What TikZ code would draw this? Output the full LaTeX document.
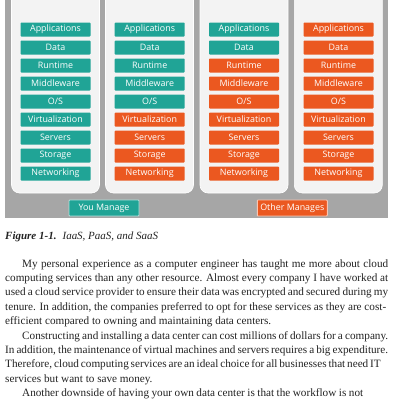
\documentclass[tikz,border=0pt]{standalone}
\usepackage{fontspec}
\setmainfont{Liberation Serif}
\newfontfamily\capfont{Liberation Serif}
\newfontfamily\boxfont{Open Sans}
\definecolor{tealc}{RGB}{32,164,150}
\definecolor{orangec}{RGB}{235,88,32}
\definecolor{bggray}{RGB}{166,166,166}
\definecolor{panelc}{RGB}{243,243,243}
\definecolor{textc}{RGB}{35,35,35}
\begin{document}
\begin{tikzpicture}[x=1pt,y=-1pt,
 layerbox/.style={minimum width=70pt,minimum height=14pt,inner sep=0pt,rounded corners=0.8pt,text=white,font=\boxfont\fontsize{8.9}{10}\selectfont},
 mine/.style={layerbox,fill=tealc},
 theirs/.style={layerbox,fill=orangec},
 legendbox/.style={layerbox,minimum height=16pt,draw=white!65!#1,line width=0.9pt,fill=#1},
 panel/.style={fill=panelc,draw=white,line width=0.6pt,rounded corners=8pt},
 txt/.style={anchor=base west,inner sep=0pt,font=\fontsize{11.2}{12}\selectfont,text=textc}]
\useasboundingbox (0,0) rectangle (400,400);
\fill[white] (0,0) rectangle (400,400);
\fill[bggray] (5,-5) rectangle (388,218);
\draw[panel] (11.5,-15) rectangle (99.5,193);
\draw[panel] (105.5,-15) rectangle (193.5,193);
\draw[panel] (200,-15) rectangle (288,193);
\draw[panel] (294.3,-15) rectangle (382.3,193);
\foreach \lab [count=\i] in {Applications,Data,Runtime,Middleware,O/S,Virtualization,Servers,Storage,Networking} {
  \node[mine] (a\i) at (55.5,11.5+18*\i) {\lab};
  \ifnum\i<6 \node[mine] (b\i) at (149.7,11.5+18*\i) {\lab};
  \else \node[theirs] (b\i) at (149.7,11.5+18*\i) {\lab}; \fi
  \ifnum\i<3 \node[mine] (c\i) at (244,11.5+18*\i) {\lab};
  \else \node[theirs] (c\i) at (244,11.5+18*\i) {\lab}; \fi
  \node[theirs] (d\i) at (338.5,11.5+18*\i) {\lab};
}
\node[legendbox=tealc] (you) at (104,208) {You Manage};
\node[legendbox=orangec] (other) at (292.3,208) {Other Manages};
\node[txt,font=\capfont\fontsize{11}{12}\selectfont] (cap) at (5,239.5) {\textbf{\textit{Figure 1-1.}}\hspace{0.55em}\textit{IaaS, PaaS, and SaaS}};
\node[txt] (l1) at (22,267) {\hbox to 366pt{My personal experience as a computer engineer has taught me more about cloud}};
\node[txt] (l2) at (5,281.4) {\hbox to 383pt{computing services than any other resource. Almost every company I have worked at}};
\node[txt] (l3) at (5,295.8) {\hbox to 383pt{used a cloud service provider to ensure their data was encrypted and secured during my}};
\node[txt] (l4) at (5,310.2) {\hbox to 381pt{tenure. In addition, the companies preferred to opt for these services as they are cost-}};
\node[txt] (l5) at (5,324.6) {efficient compared to owning and maintaining data centers.};
\node[txt] (l6) at (22,339) {\hbox to 366pt{Constructing and installing a data center can cost millions of dollars for a company.}};
\node[txt] (l7) at (5,353.4) {\hbox to 383pt{In addition, the maintenance of virtual machines and servers requires a big expenditure.}};
\node[txt] (l8) at (5,367.8) {\hbox to 373pt{Therefore, cloud computing services are an ideal choice for all businesses that need IT}};
\node[txt] (l9) at (5,382.2) {services but want to save money.};
\node[txt] (l10) at (22,396.6) {\hbox to 341pt{Another downside of having your own data center is that the workflow is not}};
\end{tikzpicture}
\end{document}
